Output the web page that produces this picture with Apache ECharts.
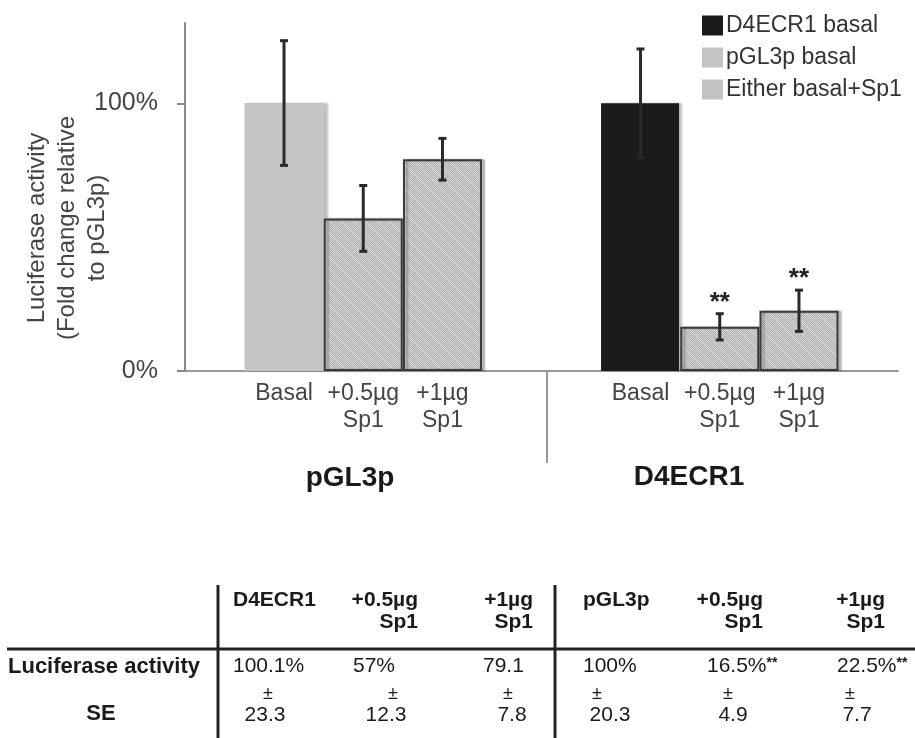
<!DOCTYPE html>
<html><head><meta charset="utf-8">
<script src="https://cdn.jsdelivr.net/npm/echarts@6/dist/echarts.min.js"></script>
<style>html,body{margin:0;padding:0;background:#fff}#c{width:915px;height:738px}</style>
</head><body><div id="c"></div>
<script>
// ---------- data ----------
const groups = ['pGL3p', 'D4ECR1'];
const conditions = ['Basal', '+0.5µg\nSp1', '+1µg\nSp1'];
const pGL3pMeans = [100.1, 57, 79.1];
const pGL3pSE = [23.3, 12.3, 7.8];
const d4ecr1Means = [100, 16.5, 22.5];
const d4ecr1SE = [20.3, 4.9, 7.7];
const significance = ['', '', '', '', '**', '**'];
const legendNames = ['D4ECR1 basal', 'pGL3p basal', 'Either basal+Sp1'];
const yTickValues = [0, 100];
const yTickLabels = ['0%', '100%'];
const yAxisTitle = 'Luciferase activity\n(Fold change relative\nto pGL3p)';
const tableHeaders = ['D4ECR1', '+0.5µg\nSp1', '+1µg\nSp1', 'pGL3p', '+0.5µg\nSp1', '+1µg\nSp1'];
const tableMeans = ['100.1%', '57%', '79.1', '100%', '16.5%', '22.5%'];
const tableMarks = ['', '', '', '', '**', '**'];
const tableSE = ['23.3', '12.3', '7.8', '20.3', '4.9', '7.7'];
const tableRowLabels = ['Luciferase activity', 'SE'];

// ---------- layout (not data) ----------
const FONT = '"Liberation Sans", Arial, Helvetica, sans-serif';
const SLOT_COUNT = 18;
const barSlots = [[2, 4, 6], [11, 13, 15]];
const slotLabels = new Array(SLOT_COUNT).fill('');
const slotIds = [];
for (let i = 0; i < SLOT_COUNT; i++) slotIds.push('s' + i);
barSlots.forEach(g => g.forEach((s, k) => { slotLabels[s] = conditions[k]; }));

const allMeans = [pGL3pMeans, d4ecr1Means];
const allSE = [pGL3pSE, d4ecr1SE];
function emptyRow() { return new Array(SLOT_COUNT).fill('-'); }
const d4Basal = emptyRow(), pBasal = emptyRow(), sp1 = emptyRow();
pBasal[barSlots[0][0]] = pGL3pMeans[0];
d4Basal[barSlots[1][0]] = d4ecr1Means[0];
[0, 1].forEach(g => { [1, 2].forEach(k => { sp1[barSlots[g][k]] = allMeans[g][k]; }); });
const errData = [];
[0, 1].forEach(g => { [0, 1, 2].forEach(k => { errData.push([barSlots[g][k], allMeans[g][k], allSE[g][k]]); }); });

// hatched pattern
const pc = document.createElement('canvas');
pc.width = 12; pc.height = 12;
const pctx = pc.getContext('2d');
for (let x = 0; x < 12; x++) for (let y = 0; y < 12; y++) {
  const chk = (x + y) % 2;
  let col = chk ? '#b0b0b0' : '#d2d2d2';
  if (((x - y + 24) % 12) < 2) col = chk ? '#c0c0c0' : '#dcdcdc';
  pctx.fillStyle = col; pctx.fillRect(x, y, 1, 1);
}
const hatch = { image: pc, repeat: 'repeat' };

const chart = echarts.init(document.getElementById('c'), null, { renderer: 'canvas' });
const barShadow = { shadowColor: 'rgba(0,0,0,0.25)', shadowBlur: 2, shadowOffsetX: 3, shadowOffsetY: 0 };

// table graphics
const headerX = [233, 418, 533, 583, 763, 885];
const headerAlign = ['left', 'right', 'right', 'left', 'right', 'right'];
const meanX = [233, 353, 483, 583, 707, 837];
const pmX = [268, 393, 508, 597, 728, 850];
const seX = [265, 386, 512, 610, 733, 857];
const tcol = '#1a1a1a';
const tableEls = [];
tableHeaders.forEach((h, i) => tableEls.push({ type: 'text', x: headerX[i], y: 589,
  style: { text: h, font: 'bold 21px ' + FONT, fill: tcol, align: headerAlign[i], verticalAlign: 'top', lineHeight: 22 } }));
tableMeans.forEach((m, i) => tableEls.push({ type: 'text', x: meanX[i], y: 666,
  style: { text: m + (tableMarks[i] ? '{s|' + tableMarks[i] + '}' : ''), font: '21px ' + FONT, fill: tcol, align: 'left', verticalAlign: 'middle',
    rich: { s: { fontSize: 14, fontWeight: 'bold', fill: tcol, padding: [0, 0, 6, 0] } } } }));
tableSE.forEach((s, i) => {
  tableEls.push({ type: 'text', x: pmX[i], y: 694, style: { text: '±', font: '18px ' + FONT, fill: tcol, align: 'center', verticalAlign: 'middle' } });
  tableEls.push({ type: 'text', x: seX[i], y: 715, style: { text: s, font: '21px ' + FONT, fill: tcol, align: 'center', verticalAlign: 'middle' } });
});
tableEls.push({ type: 'text', x: 8, y: 667, style: { text: tableRowLabels[0], font: 'bold 22px ' + FONT, fill: tcol, align: 'left', verticalAlign: 'middle' } });
tableEls.push({ type: 'text', x: 101, y: 714, style: { text: tableRowLabels[1], font: 'bold 22px ' + FONT, fill: tcol, align: 'center', verticalAlign: 'middle' } });
tableEls.push({ type: 'line', shape: { x1: 7, y1: 649, x2: 915, y2: 649 }, style: { stroke: '#222', lineWidth: 3 } });
tableEls.push({ type: 'line', shape: { x1: 218, y1: 585, x2: 218, y2: 738 }, style: { stroke: '#222', lineWidth: 3 } });
tableEls.push({ type: 'line', shape: { x1: 555, y1: 585, x2: 555, y2: 738 }, style: { stroke: '#222', lineWidth: 3 } });

const option = {
  backgroundColor: '#fff',
  animation: false,
  textStyle: { fontFamily: FONT },
  grid: { left: 185, right: 17, top: 23, bottom: 367, containLabel: false },
  legend: {
    data: legendNames.map((n, i) => ({ name: n, icon: 'rect', itemStyle: i === 2 ? { color: '#c2c2c2', borderWidth: 0 } : undefined })),
    orient: 'vertical', left: 697, top: 9,
    itemWidth: 21, itemHeight: 20, itemGap: 9, selectedMode: false,
    textStyle: { fontSize: 23, color: '#333', fontFamily: FONT, padding: [0, 0, 0, -2] }
  },
  xAxis: {
    type: 'category', data: slotIds,
    axisLine: { lineStyle: { color: '#999', width: 2 } },
    axisTick: { show: false },
    axisLabel: { interval: 0, margin: 9, fontSize: 23, lineHeight: 27, color: '#444', fontFamily: FONT,
      formatter: (v, i) => slotLabels[i] },
    splitLine: { show: false }
  },
  yAxis: {
    type: 'value', min: 0, max: 130,
    axisLine: { show: true, lineStyle: { color: '#888', width: 2 } },
    axisTick: { show: true, length: 8, customValues: yTickValues, lineStyle: { color: '#888', width: 2 } },
    axisLabel: { customValues: yTickValues, margin: 27, fontSize: 25, color: '#444', fontFamily: FONT,
      formatter: v => yTickLabels[yTickValues.indexOf(v)] || '' },
    splitLine: { show: false }
  },
  series: [
    { name: legendNames[0], type: 'bar', data: d4Basal, barWidth: 78, barGap: '-100%',
      itemStyle: Object.assign({ color: '#1b1b1b' }, barShadow) },
    { name: legendNames[1], type: 'bar', data: pBasal, barWidth: 80, barGap: '-100%',
      itemStyle: Object.assign({ color: '#c4c4c4' }, barShadow) },
    { name: legendNames[2], type: 'bar', data: sp1, barWidth: 79, barGap: '-100%',
      itemStyle: Object.assign({ color: hatch, borderColor: '#3a3a3a', borderWidth: 2 }, barShadow) },
    { type: 'custom', data: errData, z: 10, silent: true,
      renderItem: (params, api) => {
        const x = api.value(0), m = api.value(1), se = api.value(2);
        const hi = api.coord([x, m + se]), lo = api.coord([x, m - se]);
        const cx = hi[0], cap = 4, st = { stroke: '#2a2a2a', lineWidth: 3 };
        const ch = [
          { type: 'line', shape: { x1: cx, y1: hi[1], x2: cx, y2: lo[1] }, style: st },
          { type: 'line', shape: { x1: cx - cap, y1: hi[1], x2: cx + cap, y2: hi[1] }, style: st },
          { type: 'line', shape: { x1: cx - cap, y1: lo[1], x2: cx + cap, y2: lo[1] }, style: st }
        ];
        const sig = significance[params.dataIndex];
        if (sig) ch.push({ type: 'text', x: cx, y: hi[1] + 2, style: { text: sig, font: 'bold 26px ' + FONT, fill: '#222', align: 'center', verticalAlign: 'bottom' } });
        return { type: 'group', children: ch };
      } }
  ],
  graphic: [
    { type: 'text', x: 67, y: 228, rotation: Math.PI / 2,
      style: { text: yAxisTitle, font: '24px ' + FONT, fill: '#444', align: 'center', verticalAlign: 'middle', lineHeight: 30 } },
    { type: 'line', shape: { x1: 547, y1: 371, x2: 547, y2: 463 }, style: { stroke: '#999', lineWidth: 2 } },
    { type: 'text', x: 350, y: 478, style: { text: groups[0], font: 'bold 28px ' + FONT, fill: '#1a1a1a', align: 'center', verticalAlign: 'middle' } },
    { type: 'text', x: 689, y: 477, style: { text: groups[1], font: 'bold 28px ' + FONT, fill: '#1a1a1a', align: 'center', verticalAlign: 'middle' } }
  ].concat(tableEls)
};
chart.setOption(option);
</script></body></html>
